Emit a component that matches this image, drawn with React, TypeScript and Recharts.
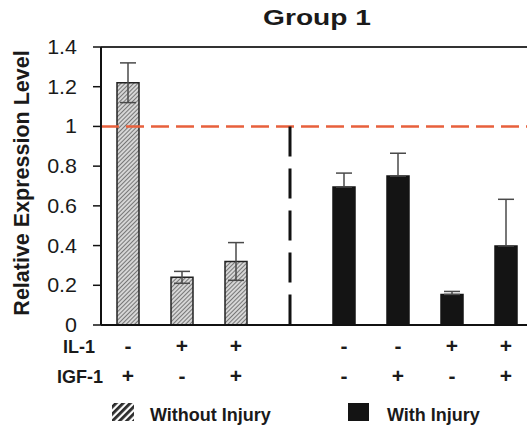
import { BarChart, Bar, Cell, XAxis, YAxis, ErrorBar, ReferenceLine, Legend, Label } from 'recharts'

const slots = ['w1', 'w2', 'w3', 'gap', 'i1', 'i2', 'i3', 'i4']
const values = [1.22, 0.24, 0.32, null, 0.695, 0.75, 0.154, 0.398]
const errorsUp = [0.1, 0.03, 0.095, null, 0.07, 0.115, 0.015, 0.235]
const errorsDown = [0.1, 0.03, 0.095, null, 0, 0, 0, 0]
const injured = [false, false, false, false, true, true, true, true]
const il1Signs = ['-', '+', '+', '', '-', '-', '+', '+']
const igf1Signs = ['+', '-', '+', '', '-', '+', '-', '+']
const yTicks = [0, 0.2, 0.4, 0.6, 0.8, 1, 1.2, 1.4]

const data = slots.map((slot, i) => ({
  slot,
  value: values[i],
  err: errorsUp[i] == null ? null : [errorsDown[i], errorsUp[i]],
}))

const FONT = '"Liberation Sans", Arial, sans-serif'
const TICK_SX = 1.1
const TITLE_SX = 1.28

function YTick(props: any) {
  const { x, y, payload } = props
  const label = Number(Number(payload.value).toFixed(1)).toString()
  return (
    <text
      transform={`translate(${x},${y}) scale(${TICK_SX},1)`}
      textAnchor="end"
      dy="0.36em"
      fontSize={19.5}
      fontFamily={FONT}
      fill="#1a1a1a"
    >
      {label}
    </text>
  )
}

function XTick(props: any) {
  const { x, y, payload } = props
  const i = payload.index
  const style = { fontSize: 18, fontWeight: 700, fontFamily: FONT, fill: '#1a1a1a' }
  const sign = { ...style, fontSize: 21 }
  return (
    <g>
      {i === 0 && (
        <>
          <text x={95} y={y + 28} textAnchor="end" {...style}>IL-1</text>
          <text x={103} y={y + 58} textAnchor="end" {...style}>IGF-1</text>
        </>
      )}
      <text x={x} y={y + 28} textAnchor="middle" {...sign}>{il1Signs[i]}</text>
      <text x={x} y={y + 58} textAnchor="middle" {...sign}>{igf1Signs[i]}</text>
    </g>
  )
}

function YLabel(props: any) {
  const { viewBox } = props
  const cx = viewBox.x + 21
  const cy = viewBox.y + viewBox.height / 2 - 3
  return (
    <text
      transform={`translate(${cx},${cy}) rotate(-90)`}
      textAnchor="middle"
      dy="0.36em"
      fontSize={21.5}
      fontWeight={700}
      fontFamily={FONT}
      fill="#1a1a1a"
    >
      Relative Expression Level
    </text>
  )
}

function LegendBox() {
  const style = { fontSize: 18, fontWeight: 700, fontFamily: FONT, fill: '#1a1a1a' }
  return (
    <svg width={540} height={37} style={{ display: 'block' }}>
      <rect x={112} y={13} width={22} height={18} fill="url(#hatchLegend)" />
      <text x={150} y={31} {...style}>Without Injury</text>
      <rect x={348} y={13} width={21} height={18} fill="#141414" />
      <text x={387} y={31} {...style}>With Injury</text>
    </svg>
  )
}

export default function App() {
  return (
    <div style={{ position: 'fixed', left: 0, top: 0, width: 527, height: 427, overflow: 'hidden', background: '#fff' }}>
      <BarChart width={540} height={427} data={data} margin={{ top: 47, right: 7, left: 0, bottom: 0 }}>
        <defs>
          <pattern id="hatch" patternUnits="userSpaceOnUse" width={3} height={3} patternTransform="rotate(45)">
            <rect width={3} height={3} fill="#d6d6d6" />
            <rect width={1} height={3} fill="#777" />
          </pattern>
          <pattern id="hatchLegend" patternUnits="userSpaceOnUse" width={5} height={5} patternTransform="rotate(45)">
            <rect width={5} height={5} fill="#ffffff" />
            <rect width={2.8} height={5} fill="#2a2a2a" />
          </pattern>
        </defs>
        <text
          transform={`translate(317,25) scale(${TITLE_SX},1)`}
          textAnchor="middle"
          fontSize={22}
          fontWeight={700}
          fontFamily={FONT}
          fill="#1a1a1a"
        >
          Group 1
        </text>
        <XAxis
          dataKey="slot"
          height={65}
          tickSize={0}
          tickMargin={0}
          tickLine={false}
          interval={0}
          axisLine={{ stroke: '#111', strokeWidth: 2 }}
          tick={<XTick />}
        />
        <YAxis
          width={101}
          domain={[0, 1.4]}
          ticks={yTicks}
          tickSize={8}
          tickMargin={16}
          tickLine={{ stroke: '#111', strokeWidth: 1.5 }}
          axisLine={{ stroke: '#111', strokeWidth: 2 }}
          tick={<YTick />}
          label={<Label content={<YLabel />} />}
        />
        <ReferenceLine y={1.4} stroke="#333" strokeWidth={2} />
        <Bar dataKey="value" barSize={22} isAnimationActive={false}>
          {data.map((d, i) => (
            <Cell
              key={d.slot}
              fill={injured[i] ? '#141414' : 'url(#hatch)'}
              stroke={injured[i] ? '#141414' : '#222'}
              strokeWidth={1.5}
            />
          ))}
          <ErrorBar dataKey="err" width={8} stroke="#4a4a4a" strokeWidth={1.5} isAnimationActive={false} />
        </Bar>
        <ReferenceLine y={1} stroke="#e8603c" strokeWidth={2.5} strokeDasharray="18 7" />
        <ReferenceLine
          segment={[{ x: 'gap', y: 1 }, { x: 'gap', y: 0 }]}
          stroke="#111"
          strokeWidth={3}
          strokeDasharray="30 12"
        />
        <Legend
          verticalAlign="bottom"
          height={37}
          content={<LegendBox />}
          wrapperStyle={{ left: 0, bottom: 0, width: 540, height: 37 }}
        />
      </BarChart>
    </div>
  )
}
